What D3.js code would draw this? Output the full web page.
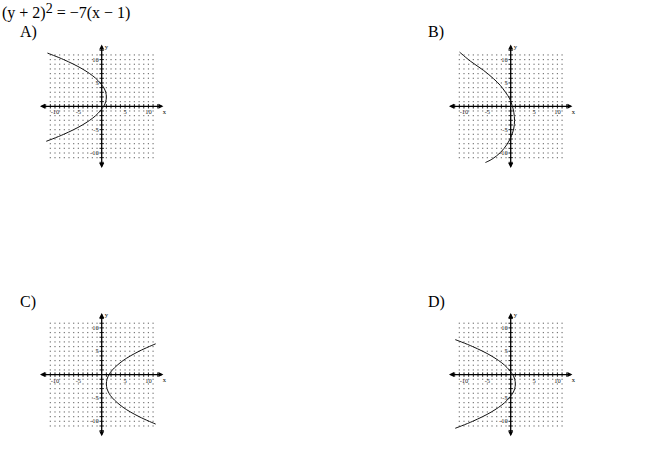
<!DOCTYPE html>
<html><head><meta charset="utf-8">
<script src="https://cdn.jsdelivr.net/npm/d3@7"></script>
<style>body{margin:0;background:#fff}svg{display:block}</style>
</head><body>
<script>
// ---- data ----
const optionLabels = ["A)", "B)", "C)", "D)"];
const xTickLabels = [-10, -5, 5, 10];
const yTickLabels = [10, 5, -5, -10];
const curveA = [[-11.62,11.4],[-8.14,10],[-4.14,8],[-1.29,6],[0.43,4],[0.86,3],[1,2],[0.86,1],[0.43,0],[-1.29,-2],[-4.14,-4],[-8.14,-6],[-11.89,-7.5]];
const curveB = [[-10.95,11.61],[-8.65,9.68],[-5.8,7.68],[-3.65,5.89],[-2.2,4.45],[-1.12,3.01],[-0.2,1.59],[0.32,0.15],[0.67,-1.29],[0.82,-3.08],[0.67,-4.65],[0.17,-6.3],[-0.75,-8.09],[-2.2,-9.89],[-3.98,-11.31],[-5.42,-12.04]];
const curveC = [[11.57,6.6],[8,5],[4.57,3],[2.29,1],[1.57,0],[1.14,-1],[1,-2],[1.14,-3],[1.57,-4],[2.29,-5],[4.57,-7],[8,-9],[11.57,-10.6]];
const curveD = [[-11.89,7.5],[-8.14,6],[-4.14,4],[-1.29,2],[0.43,0],[0.86,-1],[1,-2],[0.86,-3],[0.43,-4],[-1.29,-6],[-4.14,-8],[-8.14,-10],[-11.89,-11.5]];
const curves = [curveA, curveB, curveC, curveD];

// ---- layout ----
const W = 650, H = 459;
const unit = 4.67;
const origins = [[101.7,106.3],[510.7,106.3],[101.7,374.6],[510.7,374.6]];
const labelPos = [[20,37],[428,37],[20,307],[428,307]];

const svg = d3.select("body").append("svg").attr("width", W).attr("height", H);

const title = svg.append("text").attr("x", 2).attr("y", 18)
  .attr("font-family", "Liberation Serif, serif").attr("font-size", 16).attr("fill", "#000");
title.append("tspan").text("(y + 2)");
title.append("tspan").attr("dy", -5).attr("font-size", 14).text("2");
title.append("tspan").attr("dy", 5).text(" = \u22127(x \u2212 1)");

const xs = d3.scaleLinear().domain([-13, 13]).range([-13*unit, 13*unit]);
const ys = d3.scaleLinear().domain([-13, 13]).range([13*unit, -13*unit]);
const gridVals = d3.range(-11, 12);
const tickVals = d3.range(-12, 13).filter(v => v !== 0);

origins.forEach((o, i) => {
  svg.append("text").attr("x", labelPos[i][0]).attr("y", labelPos[i][1])
    .attr("font-family", "Liberation Serif, serif").attr("font-size", 16).text(optionLabels[i]);

  const g = svg.append("g").attr("transform", `translate(${o[0]},${o[1]})`);
  // grid dots
  const dots = [];
  gridVals.forEach(a => gridVals.forEach(b => { if (a !== 0 && b !== 0) dots.push([a, b]); }));
  g.selectAll("rect.dot").data(dots).join("rect")
    .attr("x", d => xs(d[0]) - 0.6).attr("y", d => ys(d[1]) - 0.6)
    .attr("width", 1.2).attr("height", 1.2).attr("fill", "#777");

  // axes
  g.append("line").attr("x1", xs(-12.9)).attr("x2", xs(12.9)).attr("y1", 0).attr("y2", 0)
    .attr("stroke", "#000").attr("stroke-width", 1.3);
  g.append("line").attr("y1", ys(-12.9)).attr("y2", ys(12.9)).attr("x1", 0).attr("x2", 0)
    .attr("stroke", "#000").attr("stroke-width", 1.3);
  const ah = 4, aw = 2.5;
  const e = 13*unit;
  g.append("path").attr("d", `M${e+1},0 L${e-ah},${-aw} L${e-ah},${aw}Z M${-e-1},0 L${-e+ah},${-aw} L${-e+ah},${aw}Z M0,${-e-1} L${-aw},${-e+ah} L${aw},${-e+ah}Z M0,${e+1} L${-aw},${e-ah} L${aw},${e-ah}Z`)
    .attr("fill", "#000");
  // ticks
  g.selectAll("line.xt").data(tickVals).join("line")
    .attr("x1", d => xs(d)).attr("x2", d => xs(d)).attr("y1", -2.2).attr("y2", 2.2)
    .attr("stroke", "#000").attr("stroke-width", 0.9);
  g.selectAll("line.yt").data(tickVals).join("line")
    .attr("y1", d => ys(d)).attr("y2", d => ys(d)).attr("x1", -2.2).attr("x2", 2.2)
    .attr("stroke", "#000").attr("stroke-width", 0.9);
  // tick labels
  const lg = g.append("g").attr("opacity", 0.99);
  lg.selectAll("text.xl").data(xTickLabels).join("text")
    .attr("x", d => xs(d)).attr("y", 8).attr("text-anchor", "middle")
    .attr("font-family", "Liberation Serif, serif").attr("font-size", 6.5).attr("fill", "#222")
    .text(d => d < 0 ? "-" + Math.abs(d) : d);
  lg.selectAll("text.yl").data(yTickLabels).join("text")
    .attr("x", -3).attr("y", d => ys(d) + 2.2).attr("text-anchor", "end")
    .attr("font-family", "Liberation Serif, serif").attr("font-size", 6.5).attr("fill", "#222")
    .text(d => d < 0 ? "-" + Math.abs(d) : d);
  lg.append("text").attr("x", xs(13.1)).attr("y", 7.5).attr("font-family", "Liberation Serif, serif")
    .attr("font-size", 6.5).text("x");
  lg.append("text").attr("x", 3).attr("y", ys(12.3)).attr("font-family", "Liberation Serif, serif")
    .attr("font-size", 6.5).text("y");

  // curve
  const line = d3.line().x(d => xs(d[0])).y(d => ys(d[1])).curve(d3.curveCatmullRom);
  g.append("path").attr("d", line(curves[i])).attr("fill", "none")
    .attr("stroke", "#111").attr("stroke-width", 1);
});
</script>
</body></html>
